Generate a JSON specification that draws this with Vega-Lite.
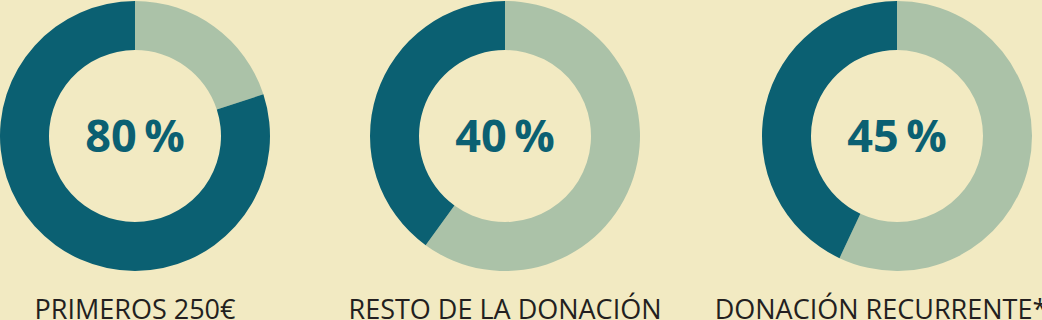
{
  "$schema": "https://vega.github.io/schema/vega-lite/v6.json",
  "background": "#f2eac2",
  "padding": 0,
  "bounds": "flush",
  "spacing": 100,
  "datasets": {
    "arcs": [
      {"grafico": "PRIMEROS 250€", "parte": "resto", "orden": 1, "valor": 20},
      {"grafico": "PRIMEROS 250€", "parte": "porcentaje", "orden": 2, "valor": 80},
      {"grafico": "RESTO DE LA DONACIÓN", "parte": "resto", "orden": 1, "valor": 60},
      {"grafico": "RESTO DE LA DONACIÓN", "parte": "porcentaje", "orden": 2, "valor": 40},
      {"grafico": "DONACIÓN RECURRENTE", "parte": "resto", "orden": 1, "valor": 57},
      {"grafico": "DONACIÓN RECURRENTE", "parte": "porcentaje", "orden": 2, "valor": 43}
    ],
    "pcts": [
      {"grafico": "PRIMEROS 250€", "etiqueta": "80\u2009%"},
      {"grafico": "RESTO DE LA DONACIÓN", "etiqueta": "40\u2009%"},
      {"grafico": "DONACIÓN RECURRENTE", "etiqueta": "45\u2009%"}
    ]
  },
  "config": {
    "view": {"stroke": null},
    "title": {"font": "Open Sans", "fontSize": 27, "fontWeight": "normal", "color": "#231f20", "orient": "bottom", "offset": 26}
  },
  "hconcat": [
    {
      "width": 270, "height": 272,
      "title": {"text": "PRIMEROS 250€"},
      "layer": [
        {"data": {"name": "arcs"}, "transform": [{"filter": "datum.grafico === 'PRIMEROS 250€'"}],
         "mark": {"type": "arc", "outerRadius": 135, "innerRadius": 86},
         "encoding": {"theta": {"field": "valor", "type": "quantitative", "stack": true},
           "color": {"field": "parte", "type": "nominal", "scale": {"domain": ["resto", "porcentaje"], "range": ["#abc2a8", "#0b6072"]}, "legend": null},
           "order": {"field": "orden", "type": "quantitative"}}},
        {"data": {"name": "pcts"}, "transform": [{"filter": "datum.grafico === 'PRIMEROS 250€'"}],
         "mark": {"type": "text", "font": "Open Sans", "fontWeight": "bold", "fontSize": 45, "color": "#0b6072", "dy": 2},
         "encoding": {"text": {"field": "etiqueta", "type": "nominal"}}}
      ]
    },
    {
      "width": 270, "height": 272,
      "title": {"text": "RESTO DE LA DONACIÓN"},
      "layer": [
        {"data": {"name": "arcs"}, "transform": [{"filter": "datum.grafico === 'RESTO DE LA DONACIÓN'"}],
         "mark": {"type": "arc", "outerRadius": 135, "innerRadius": 86},
         "encoding": {"theta": {"field": "valor", "type": "quantitative", "stack": true},
           "color": {"field": "parte", "type": "nominal", "scale": {"domain": ["resto", "porcentaje"], "range": ["#abc2a8", "#0b6072"]}, "legend": null},
           "order": {"field": "orden", "type": "quantitative"}}},
        {"data": {"name": "pcts"}, "transform": [{"filter": "datum.grafico === 'RESTO DE LA DONACIÓN'"}],
         "mark": {"type": "text", "font": "Open Sans", "fontWeight": "bold", "fontSize": 45, "color": "#0b6072", "dy": 2},
         "encoding": {"text": {"field": "etiqueta", "type": "nominal"}}}
      ]
    },
    {
      "width": 314, "height": 272,
      "title": {"text": "DONACIÓN RECURRENTE*", "dx": -16},
      "layer": [
        {"data": {"name": "arcs"}, "transform": [{"filter": "datum.grafico === 'DONACIÓN RECURRENTE'"}],
         "mark": {"type": "arc", "outerRadius": 135, "innerRadius": 86},
         "encoding": {"theta": {"field": "valor", "type": "quantitative", "stack": true},
           "color": {"field": "parte", "type": "nominal", "scale": {"domain": ["resto", "porcentaje"], "range": ["#abc2a8", "#0b6072"]}, "legend": null},
           "order": {"field": "orden", "type": "quantitative"}}},
        {"data": {"name": "pcts"}, "transform": [{"filter": "datum.grafico === 'DONACIÓN RECURRENTE'"}],
         "mark": {"type": "text", "font": "Open Sans", "fontWeight": "bold", "fontSize": 45, "color": "#0b6072", "dy": 2},
         "encoding": {"text": {"field": "etiqueta", "type": "nominal"}}}
      ]
    }
  ]
}
